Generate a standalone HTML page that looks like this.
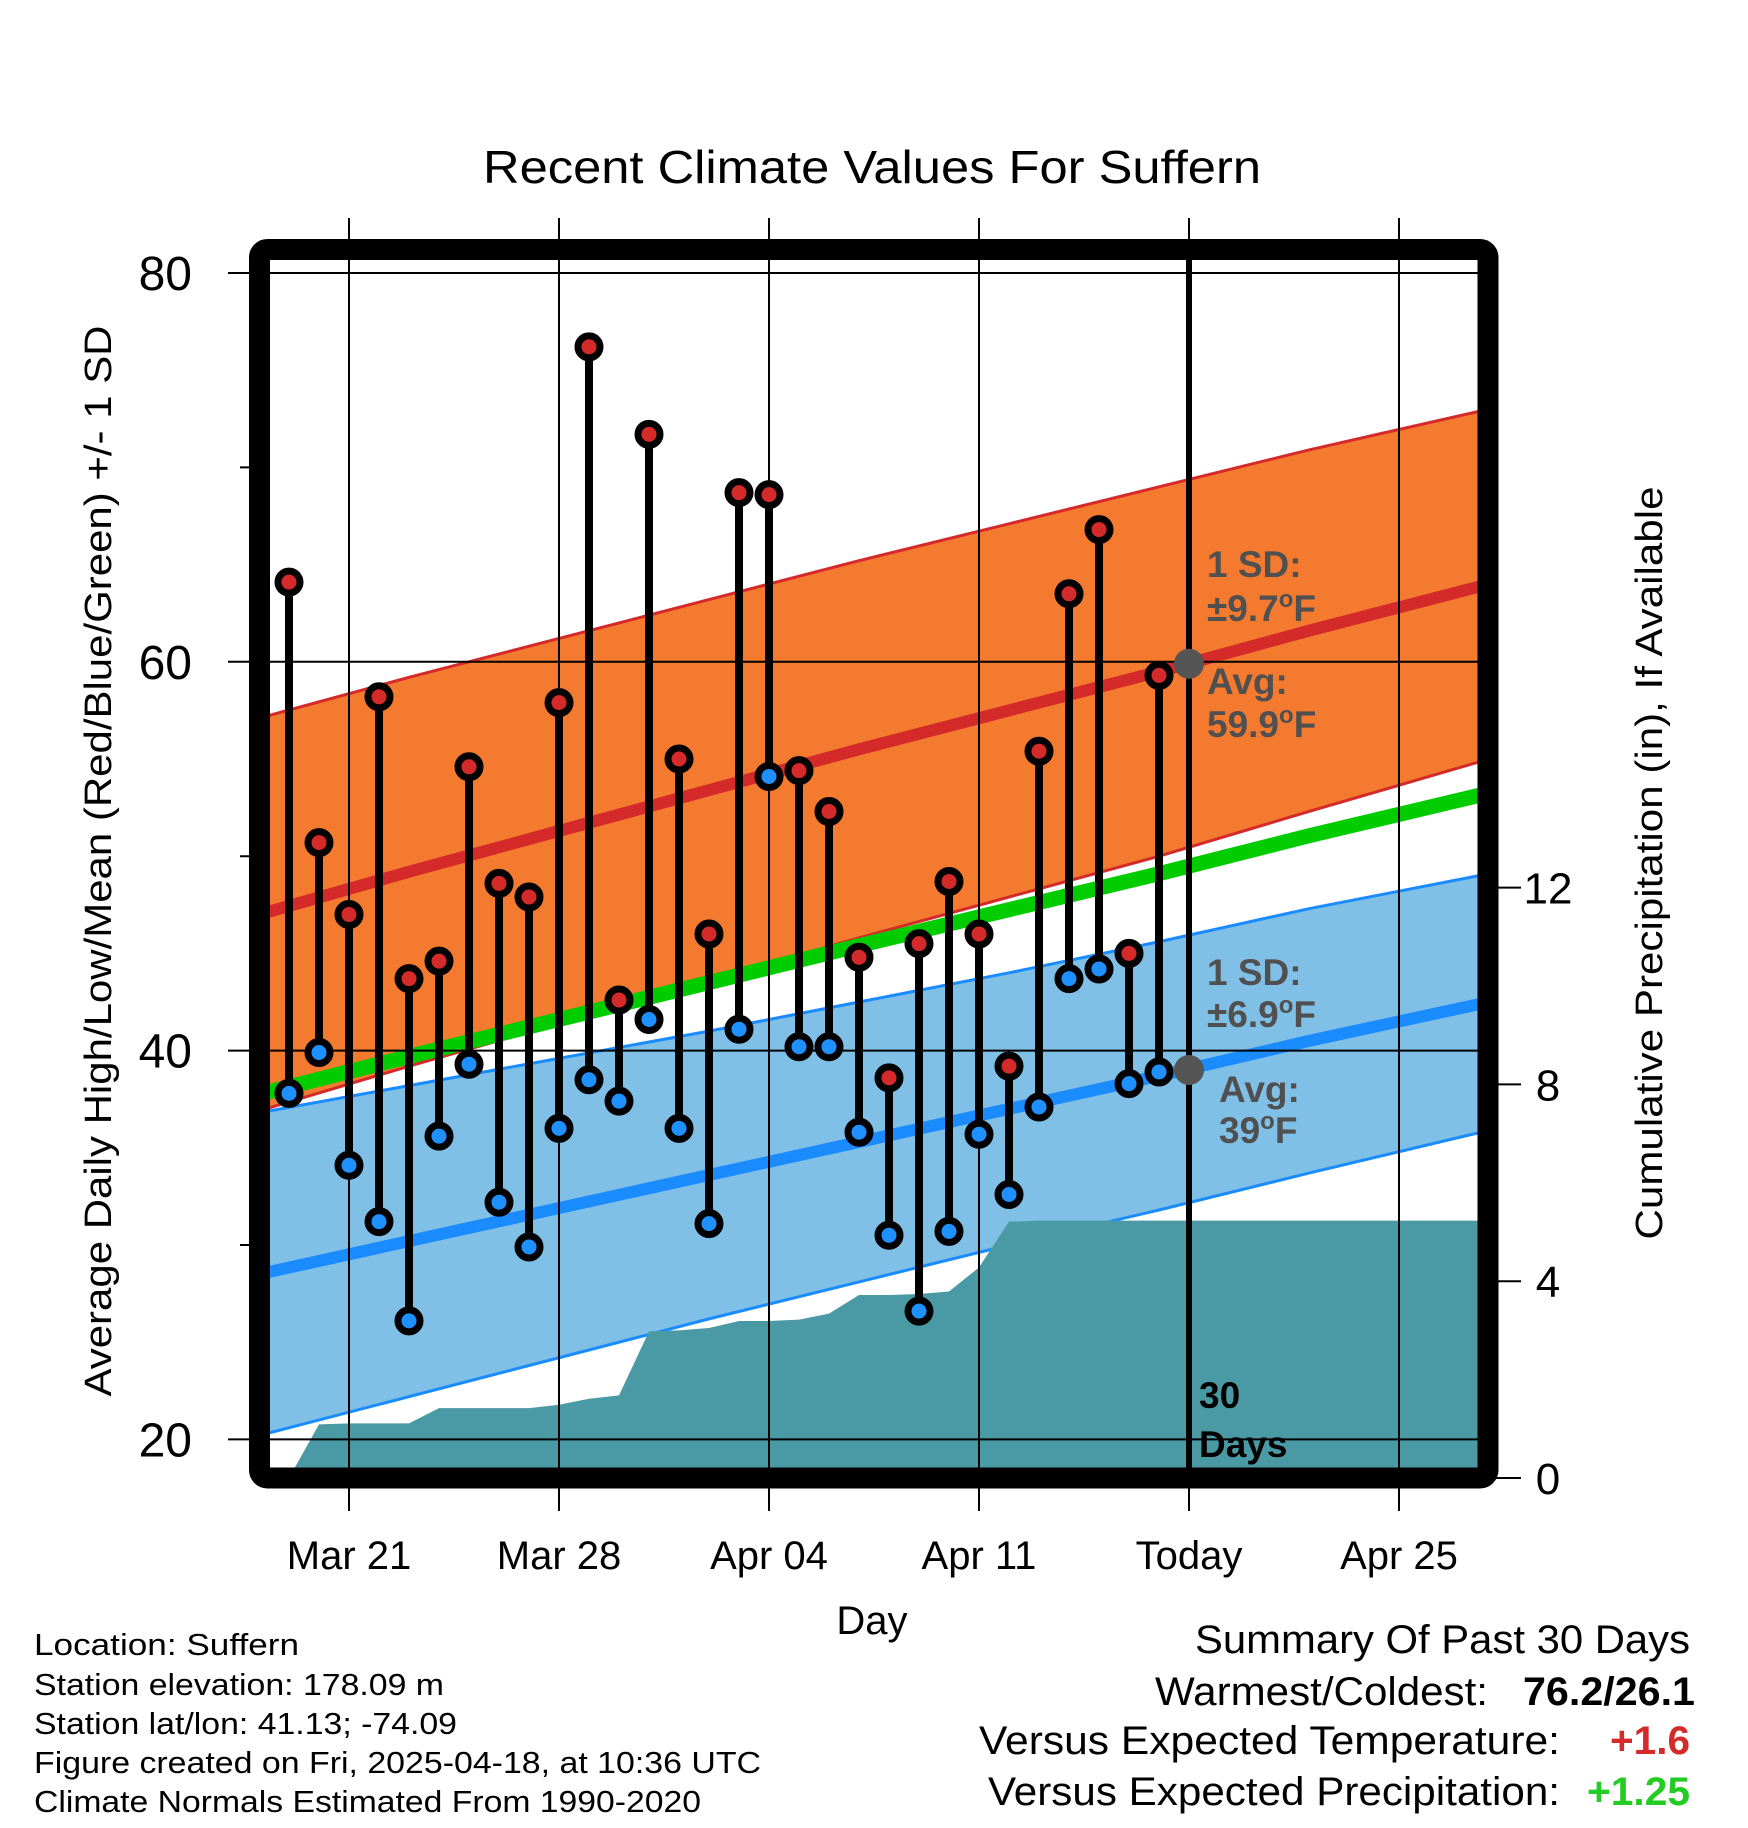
<!DOCTYPE html>
<html><head><meta charset="utf-8">
<style>
html,body{margin:0;padding:0;background:#fff;}
svg{display:block;font-family:"Liberation Sans",Arial,sans-serif;}
</style></head>
<body>
<svg id="chart" width="1748" height="1828" viewBox="0 0 1748 1828" xmlns="http://www.w3.org/2000/svg">
<defs><clipPath id="plotclip"><rect x="270" y="260" width="1208" height="1208"/></clipPath></defs>
<rect x="0" y="0" width="1748" height="1828" fill="#fff"/>
<text x="872" y="183" text-anchor="middle" font-size="46" textLength="778" lengthAdjust="spacingAndGlyphs">Recent Climate Values For Suffern</text>
<g id="plot" clip-path="url(#plotclip)"></g>
<g id="over"></g>
<text transform="translate(111,861) rotate(-90)" text-anchor="middle" font-size="38" textLength="1071" lengthAdjust="spacingAndGlyphs">Average Daily High/Low/Mean (Red/Blue/Green) +/- 1 SD</text>
<text transform="translate(1662,863) rotate(-90)" text-anchor="middle" font-size="38" textLength="753" lengthAdjust="spacingAndGlyphs">Cumulative Precipitation (in), If Available</text>
<text x="872" y="1634" text-anchor="middle" font-size="40">Day</text>
<g font-size="31">
<text x="34" y="1655" textLength="265" lengthAdjust="spacingAndGlyphs">Location: Suffern</text>
<text x="34" y="1695" textLength="410" lengthAdjust="spacingAndGlyphs">Station elevation: 178.09 m</text>
<text x="34" y="1734" textLength="423" lengthAdjust="spacingAndGlyphs">Station lat/lon: 41.13; -74.09</text>
<text x="34" y="1773" textLength="727" lengthAdjust="spacingAndGlyphs">Figure created on Fri, 2025-04-18, at 10:36 UTC</text>
<text x="34" y="1812" textLength="667" lengthAdjust="spacingAndGlyphs">Climate Normals Estimated From 1990-2020</text>
</g>
<g font-size="40">
<text x="1195" y="1653" textLength="495" lengthAdjust="spacingAndGlyphs">Summary Of Past 30 Days</text>
<text x="1155" y="1705" textLength="333" lengthAdjust="spacingAndGlyphs">Warmest/Coldest:</text>
<text x="1523" y="1705" font-weight="bold" textLength="172" lengthAdjust="spacingAndGlyphs">76.2/26.1</text>
<text x="979" y="1754" textLength="581" lengthAdjust="spacingAndGlyphs">Versus Expected Temperature:</text>
<text x="1610" y="1754" font-weight="bold" fill="#d42a2a" textLength="80" lengthAdjust="spacingAndGlyphs">+1.6</text>
<text x="988" y="1805" textLength="572" lengthAdjust="spacingAndGlyphs">Versus Expected Precipitation:</text>
<text x="1587" y="1805" font-weight="bold" fill="#22cc22" textLength="103" lengthAdjust="spacingAndGlyphs">+1.25</text>
</g>
</svg>
<script>
// ---- data ----
const dayLabels = ["Mar 21","Mar 28","Apr 04","Apr 11","Today","Apr 25"];
const dayLabelPos = [0,7,14,21,28,35];
const obsDays = [-2,-1,0,1,2,3,4,5,6,7,8,9,10,11,12,13,14,15,16,17,18,19,20,21,22,23,24,25,26,27];
const highs = [64.1,50.7,47.0,58.2,43.7,44.6,54.6,48.6,47.9,57.9,76.2,42.6,71.7,55.0,46.0,68.7,68.6,54.4,52.3,44.8,38.6,45.5,48.7,46.0,39.2,55.4,63.5,66.8,45.0,59.3];
const lows = [37.8,39.9,34.1,31.2,26.1,35.6,39.3,32.2,29.9,36.0,38.5,37.4,41.6,36.0,31.1,41.1,54.1,40.2,40.2,35.8,30.5,26.6,30.7,35.7,32.6,37.1,43.7,44.2,38.3,38.9];
const normDays = [-3,2,7,12,17,22,27,32,38];
const normHigh = [47.0,49.2,51.3,53.4,55.5,57.5,59.5,61.6,64.0];
const sdHigh = [10.1,10.0,9.9,9.8,9.7,9.6,9.5,9.3,9.0];
const normLow = [28.5,30.2,31.9,33.6,35.3,37.0,38.7,40.5,42.5];
const sdLow = [8.3,8.0,7.7,7.4,7.2,7.0,6.9,6.8,6.6];
const precipDays = [-2,-1,0,1,2,3,4,5,6,7,8,9,10,11,12,13,14,15,16,17,18,19,20,21,22,23,24,25,26,27,28,38];
const precipCum = [0,1.09,1.11,1.11,1.11,1.42,1.42,1.42,1.42,1.49,1.61,1.68,2.98,3.00,3.05,3.19,3.19,3.22,3.34,3.72,3.72,3.74,3.79,4.28,5.21,5.23,5.23,5.23,5.23,5.23,5.23,5.23];
const tempTicks = [80,60,40,20];
const tempMinor = [70,50,30];
const precipTicks = [0,4,8,12];

// ---- axes ----
const xOf = d => 349 + d*30.0;
const yOf = t => 273 + (80 - t)*19.44;
const yP = p => 1478 - p*49.2;
const NS = "http://www.w3.org/2000/svg";
function mk(tag, attrs, parent){const e=document.createElementNS(NS,tag);for(const k in attrs)e.setAttribute(k,attrs[k]);parent.appendChild(e);return e;}
const plot = document.getElementById('plot');
const over = document.getElementById('over');
const svg = document.getElementById('chart');

function bandPath(lowerFn, upperFn){
  let pts=[];
  for(let i=0;i<normDays.length;i++) pts.push(xOf(normDays[i])+','+yOf(upperFn(i)));
  for(let i=normDays.length-1;i>=0;i--) pts.push(xOf(normDays[i])+','+yOf(lowerFn(i)));
  return pts.join(' ');
}
function linePts(fn){let p=[];for(let i=0;i<normDays.length;i++)p.push(xOf(normDays[i])+','+yOf(fn(i)));return p.join(' ');}

let e = mk('polygon',{points:bandPath(i=>normHigh[i]-sdHigh[i],i=>normHigh[i]+sdHigh[i]),fill:'#f47a2f',stroke:'#d42a2a','stroke-width':3},plot);
 
e = mk('polygon',{points:bandPath(i=>normLow[i]-sdLow[i],i=>normLow[i]+sdLow[i]),fill:'#80bfe6',stroke:'#1a8cff','stroke-width':3},plot);
 
e = mk('polyline',{points:linePts(i=>normHigh[i]),fill:'none',stroke:'#d42a2a','stroke-width':12},plot);
 
e = mk('polyline',{points:linePts(i=>normLow[i]),fill:'none',stroke:'#1a8cff','stroke-width':12},plot);
 
e = mk('polyline',{points:linePts(i=>(normHigh[i]+normLow[i])/2),fill:'none',stroke:'#00cc00','stroke-width':15},plot);
 

let pp=[xOf(precipDays[0])+','+yP(0)];
for(let i=0;i<precipDays.length;i++) pp.push(xOf(precipDays[i])+','+yP(precipCum[i]));
pp.push(xOf(precipDays[precipDays.length-1])+','+yP(0));
e = mk('polygon',{points:pp.join(' '),fill:'#4a9aa5'},plot);
 

tempTicks.forEach(t=>{
  let g = mk('line',{x1:228,x2:1478,y1:yOf(t),y2:yOf(t),stroke:'#000','stroke-width':2},over);
   
  let tx = mk('text',{x:192,y:yOf(t)+17,'text-anchor':'end','font-size':48},svg);
  tx.textContent=t;
   
});
tempMinor.forEach(t=>{
  let g = mk('line',{x1:240,x2:260,y1:yOf(t),y2:yOf(t),stroke:'#000','stroke-width':2},over);
   
});
precipTicks.forEach(p=>{
  let g = mk('line',{x1:1488,x2:1521,y1:yP(p),y2:yP(p),stroke:'#000','stroke-width':2},over);
   
  let tx = mk('text',{x:1548,y:yP(p)+16,'text-anchor':'middle','font-size':44},svg);
  tx.textContent=p;
   
});
dayLabelPos.forEach((d,i)=>{
  let g = mk('line',{x1:xOf(d),x2:xOf(d),y1:218,y2:1511,stroke:'#000','stroke-width':2},over);
   
  let tx = mk('text',{x:xOf(d),y:1569,'text-anchor':'middle','font-size':40},svg);
  tx.textContent=dayLabels[i];
   
});
e = mk('line',{x1:xOf(28),x2:xOf(28),y1:250,y2:1478,stroke:'#000','stroke-width':6},over);
 

obsDays.forEach((d,i)=>{
  let s = mk('line',{x1:xOf(d),x2:xOf(d),y1:yOf(highs[i]),y2:yOf(lows[i]),stroke:'#000','stroke-width':8},over);
   
});
obsDays.forEach((d,i)=>{
  let c = mk('circle',{cx:xOf(d),cy:yOf(highs[i]),r:11,fill:'#d42a2a',stroke:'#000','stroke-width':7},over);
   
  let c2 = mk('circle',{cx:xOf(d),cy:yOf(lows[i]),r:11,fill:'#1e90ff',stroke:'#000','stroke-width':7},over);
   
});
e = mk('circle',{cx:xOf(28),cy:yOf(59.9),r:15,fill:'#555'},over);
 
e = mk('circle',{cx:xOf(28),cy:yOf(39.0),r:15,fill:'#555'},over);
 

e = mk('rect',{x:259.5,y:249.5,width:1228.5,height:1228.5,rx:8,fill:'none',stroke:'#000','stroke-width':21},over);
 

function ann(x,y,html,name,fill){
  const t = mk('text',{x:x,y:y,'font-size':37,'font-weight':'bold',fill:fill||'#505050'},over);
  t.innerHTML = html;
  
  
}
ann(1207,577,'1 SD:','high-sd-label');
ann(1207,621,'±9.7<tspan font-size="24" dy="-14">o</tspan><tspan dy="14">F</tspan>','high-sd-value');
ann(1207,694,'Avg:','high-avg-label');
ann(1207,737,'59.9<tspan font-size="24" dy="-14">o</tspan><tspan dy="14">F</tspan>','high-avg-value');
ann(1207,985,'1 SD:','low-sd-label');
ann(1207,1027,'±6.9<tspan font-size="24" dy="-14">o</tspan><tspan dy="14">F</tspan>','low-sd-value');
ann(1219,1102,'Avg:','low-avg-label');
ann(1219,1143,'39<tspan font-size="24" dy="-14">o</tspan><tspan dy="14">F</tspan>','low-avg-value');
ann(1199,1408,'30','days-count-label','#000');
ann(1199,1457,'Days','days-label','#000');
</script>
</body></html>
